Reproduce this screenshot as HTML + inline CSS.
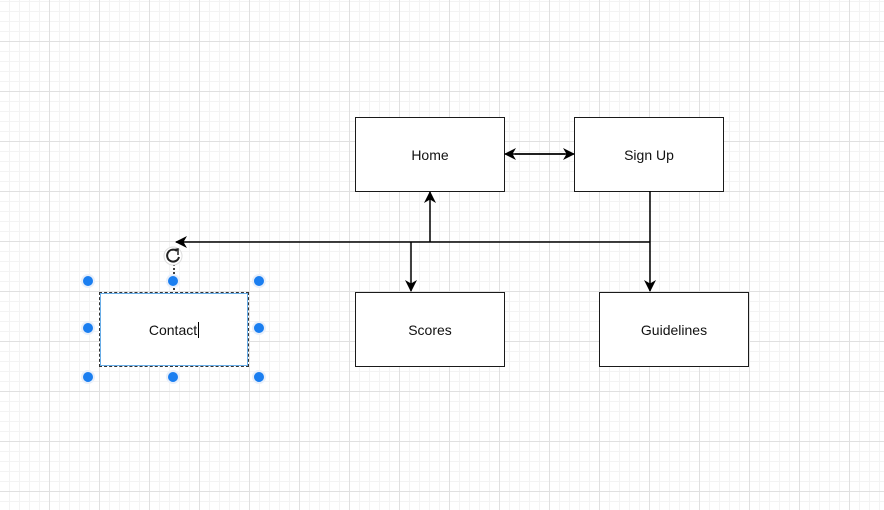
<!DOCTYPE html>
<html><head><style>
html,body{margin:0;padding:0}
body{width:884px;height:510px;overflow:hidden;background:#fff;
background-image:
linear-gradient(#e0e0e0 1px,transparent 1px),
linear-gradient(90deg,#e0e0e0 1px,transparent 1px),
linear-gradient(#f3f3f3 1px,transparent 1px),
linear-gradient(90deg,#f3f3f3 1px,transparent 1px);
background-size:50px 50px,50px 50px,10px 10px,10px 10px;
background-position:0 41px,-1px 0,0 41px,-1px 0;
font-family:"Liberation Sans",sans-serif;position:relative}
.b{position:absolute;width:148px;height:73px;border:1.5px solid #1a1a1a;background:#fff;
display:flex;align-items:center;justify-content:center;font-size:14px;color:#111}
svg{position:absolute;left:0;top:0}
</style></head><body>
<div class="b" style="left:355px;top:117px">Home</div>
<div class="b" style="left:574px;top:117px">Sign Up</div>
<div class="b" style="left:355px;top:292px">Scores</div>
<div class="b" style="left:599px;top:292px">Guidelines</div>
<div class="b" style="left:99px;top:292px;border:1.5px dashed #333;box-shadow:0 0 0 1px #6aaee8 inset">Contact<span style="border-left:1px solid #000;height:16px;margin-left:1px"></span></div>
<svg width="884" height="510">
<defs><marker id="a" markerWidth="12" markerHeight="12" refX="11" refY="6" orient="auto" markerUnits="userSpaceOnUse"><path d="M0,0 L12,6 L0,12 L3.5,6z" fill="#000"/></marker></defs>
<g stroke="#000" stroke-width="1.5" fill="none">
<line x1="650" y1="242" x2="176" y2="242" marker-end="url(#a)"/>
<line x1="430" y1="242" x2="430" y2="192" marker-end="url(#a)"/>
<line x1="411" y1="242" x2="411" y2="291" marker-end="url(#a)"/>
<line x1="650" y1="191" x2="650" y2="291" marker-end="url(#a)"/>
<line x1="515" y1="154" x2="574" y2="154" marker-end="url(#a)"/>
<line x1="565" y1="154" x2="505" y2="154" marker-end="url(#a)"/>
<line x1="174" y1="264" x2="174" y2="290" stroke-dasharray="2,2"/>
</g>
<g fill="#1a7ef0">
<g fill="#e8effa"><circle cx="88" cy="281" r="7"/><circle cx="173" cy="281" r="7"/><circle cx="259" cy="281" r="7"/>
<circle cx="88" cy="328" r="7"/><circle cx="259" cy="328" r="7"/>
<circle cx="88" cy="377" r="7"/><circle cx="173" cy="377" r="7"/><circle cx="259" cy="377" r="7"/></g>
<circle cx="88" cy="281" r="5"/><circle cx="173" cy="281" r="5"/><circle cx="259" cy="281" r="5"/>
<circle cx="88" cy="328" r="5"/><circle cx="259" cy="328" r="5"/>
<circle cx="88" cy="377" r="5"/><circle cx="173" cy="377" r="5"/><circle cx="259" cy="377" r="5"/>
</g>
<circle cx="173" cy="256" r="9" fill="#fff" stroke="#ddd" stroke-width="1"/>
<path d="M177,251 A6,6 0 1 0 179,257" fill="none" stroke="#222" stroke-width="2"/>
<path d="M172,250 L178,249 L178,255" fill="none" stroke="#222" stroke-width="1.5"/>
</svg>
</body></html>
